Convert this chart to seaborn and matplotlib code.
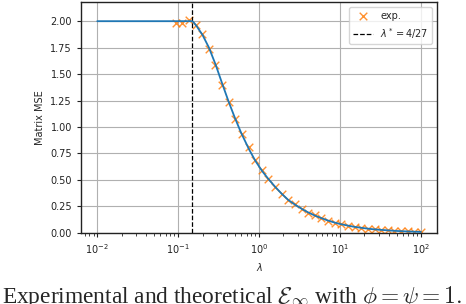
import numpy as np
import seaborn as sns
import matplotlib
matplotlib.use('Agg')
import matplotlib.pyplot as plt

# theoretical curve
theory_lam = [0.01, 0.05, 0.1, 0.148, 0.155, 0.17, 0.2, 0.24, 0.29, 0.35, 0.42, 0.5,
              0.6, 0.75, 0.9, 1.1, 1.3, 1.6, 1.9, 2.3, 2.8, 3.4, 4.0, 5.0, 6.0,
              7.0, 8.5, 10, 13, 15, 20, 25, 30, 40, 50, 70, 100]
theory_mse = [2.0, 2.0, 2.0, 2.0, 1.99, 1.95, 1.87, 1.75, 1.59, 1.41, 1.24, 1.09,
              0.945, 0.79, 0.68, 0.58, 0.51, 0.43, 0.37, 0.31, 0.265, 0.225, 0.195, 0.16, 0.137,
              0.118, 0.098, 0.084, 0.066, 0.057, 0.044, 0.035, 0.03, 0.023, 0.018, 0.013, 0.009]

# experimental points
exp_lam = [0.0931, 0.1125, 0.1358, 0.164, 0.1981, 0.2392, 0.2889, 0.3487, 0.4211, 0.5085,
           0.614, 0.7413, 0.8951, 1.081, 1.305, 1.576, 1.903, 2.298, 2.775, 3.351,
           4.047, 4.886, 5.9, 7.124, 8.603, 10.39, 12.55, 15.15, 18.3, 22.1,
           26.7, 32.2, 38.9, 47.0, 56.8, 68.6, 82.8, 100.0]
exp_mse = [1.98, 1.98, 2.01, 1.96, 1.88, 1.74, 1.59, 1.40, 1.24, 1.08,
           0.93, 0.81, 0.69, 0.595, 0.51, 0.43, 0.365, 0.31, 0.27, 0.23,
           0.19, 0.165, 0.14, 0.115, 0.095, 0.08, 0.066, 0.055, 0.046, 0.038,
           0.032, 0.027, 0.023, 0.02, 0.017, 0.014, 0.012, 0.010]

lam_star = 4/27

sns.set_style('ticks')
plt.rcParams['font.family'] = ['DejaVu Sans']
plt.rcParams['mathtext.fontset'] = 'dejavusans'

fig = plt.figure(figsize=(4.66, 3.04), dpi=100)
ax = fig.add_axes([0.174, 0.234, 0.764, 0.759])

sns.scatterplot(x=exp_lam, y=exp_mse, marker='x', color='C1', s=30, linewidth=1,
                alpha=0.85, label='exp.', ax=ax, zorder=2)
sns.lineplot(x=theory_lam, y=theory_mse, color='C0', linewidth=1.3, ax=ax, zorder=3)
ax.axvline(lam_star, color='k', linestyle='--', linewidth=0.9, label=r'$\lambda^* = 4/27$')

ax.set_xscale('log')
ax.set_ylim(0, 2.18)
ax.set_yticks(np.arange(0, 2.01, 0.25))
ax.grid(True, color='#b0b0b0', linewidth=0.8)
ax.set_axisbelow(True)
for s in ax.spines.values():
    s.set_color('#222222')
    s.set_linewidth(1.0)
ax.tick_params(labelsize=7, colors='#222222', length=3)
ax.tick_params(which='minor', length=1.8)
ax.set_xlabel(r'$\lambda$', fontsize=7)
ax.set_ylabel('Matrix MSE', fontsize=7)

h, l = ax.get_legend_handles_labels()
ax.legend(h, l, loc='upper right', fontsize=7, framealpha=0.8)

# caption strip, cropped at the bottom like the source
fig.text(0.004, 0.002, r'Experimental and theoretical $\mathcal{E}_\infty$ with $\phi = \psi = 1.$',
         family='Liberation Serif', fontsize=16.8, ha='left', va='baseline', math_fontfamily='cm')

fig.savefig('out.png', dpi=100)
